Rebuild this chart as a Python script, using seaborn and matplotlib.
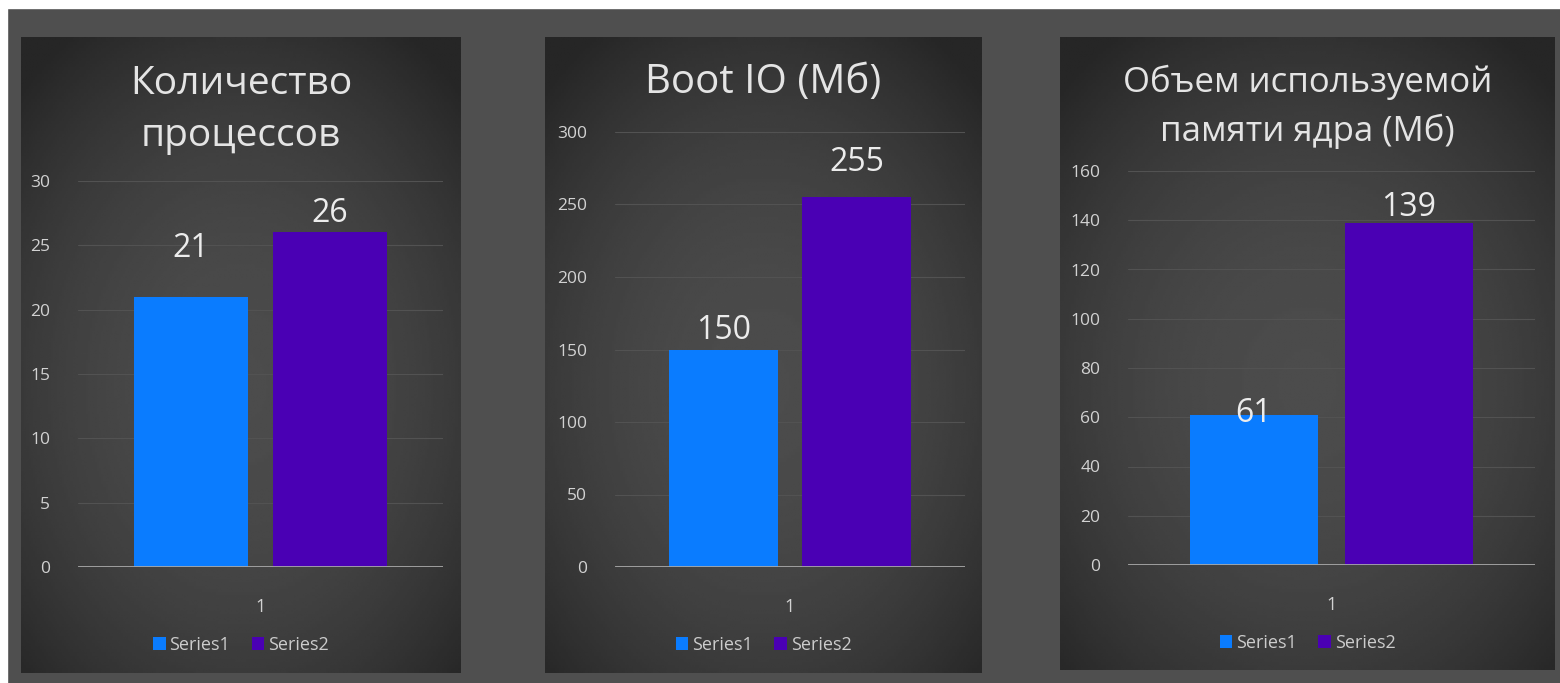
import numpy as np
import pandas as pd
import matplotlib.pyplot as plt
import seaborn as sns
from matplotlib.patches import Rectangle

# ---------------- данные ----------------
series = ["Series1", "Series2"]
category = ["1"]
processes = [21, 26]
boot_io = [150, 255]
kernel_mem = [61, 139]
titles = ["Количество\nпроцессов", "Boot IO (Мб)", "Объем используемой\nпамяти ядра (Мб)"]
y_max = [30, 300, 160]
y_step = [5, 50, 20]
colors = ["#0a7cff", "#4a00b4"]

sns.set_theme(style="dark")
plt.rcParams["font.family"] = ["Open Sans", "DejaVu Sans"]

W, H = 1560, 683
fig = plt.figure(figsize=(W / 100, H / 100), dpi=100, facecolor="#4f4f4f")

# белые полосы сверху и слева (как на скриншоте)
fig.patches.append(Rectangle((0, 1 - 8 / H), 1, 8 / H, transform=fig.transFigure,
                             color="white", zorder=0))
fig.patches.append(Rectangle((0, 0), 7 / W, 1, transform=fig.transFigure,
                             color="white", zorder=0))


def frac(x0, y0, x1, y1):
    # пиксели (сверху-вниз) -> доли фигуры
    return [x0 / W, 1 - y1 / H, (x1 - x0) / W, (y1 - y0) / H]


# раскладка панелей: фон, оси, заголовок, легенда, отступы подписей
panels = [
    dict(bg=(21, 37, 461, 673), ax=(78, 181, 443, 567), title_y=110, title_fs=28,
         leg_y=645, pads=(23, 2)),
    dict(bg=(545, 37, 982, 673), ax=(615, 132, 965, 567), title_y=83, title_fs=29,
         leg_y=645, pads=(2, 13)),
    dict(bg=(1060, 37, 1555, 670), ax=(1128, 171, 1535, 565), title_y=107, title_fs=25,
         leg_y=643, pads=(-11, -1)),
]
values = [processes, boot_io, kernel_mem]

# радиальный градиент для фона панелей
gx, gy = np.meshgrid(np.linspace(0, 1, 200), np.linspace(0, 1, 200))
r = np.sqrt(((gx - 0.5) / 0.75) ** 2 + ((gy - 0.55) / 0.7) ** 2)
grad = np.clip(76 - 42 * r ** 2, 38, 80)

for i, p in enumerate(panels):
    bg = fig.add_axes(frac(*p["bg"]), zorder=0)
    bg.imshow(grad, cmap="gray", vmin=0, vmax=255, aspect="auto",
              extent=(0, 1, 0, 1), interpolation="bilinear")
    bg.set_axis_off()

    ax = fig.add_axes(frac(*p["ax"]), zorder=1)
    ax.set_facecolor("none")

    df = pd.DataFrame({"category": category * len(series),
                       "series": series,
                       "value": values[i]})
    sns.barplot(data=df, x="category", y="value", hue="series", palette=colors,
                saturation=1, width=0.8, gap=0.18, errorbar=None, linewidth=0, ax=ax)

    for cont, pad in zip(ax.containers, p["pads"]):
        ax.bar_label(cont, padding=pad, fontsize=23, color="#ececec")

    ax.set_xlim(-0.525, 0.525)
    ax.set_ylim(0, y_max[i])
    ax.set_yticks(np.arange(0, y_max[i] + 1, y_step[i]))
    ax.set_xlabel("")
    ax.set_ylabel("")
    ax.yaxis.grid(True, color="#525252", lw=0.8)
    ax.xaxis.grid(False)
    ax.axhline(0, color="#a8a8a8", lw=2, zorder=3)
    for s in ax.spines.values():
        s.set_visible(False)
    ax.tick_params(axis="y", length=0, pad=20, labelsize=12.5, labelcolor="#d2d2d2")
    ax.tick_params(axis="x", length=0, pad=22, labelsize=13, labelcolor="#d2d2d2")

    handles, labels = ax.get_legend_handles_labels()
    if ax.get_legend() is not None:
        ax.get_legend().remove()
    cx = (p["bg"][0] + p["bg"][2]) / 2
    ax.legend(handles, labels, loc="center", bbox_to_anchor=(cx / W, 1 - p["leg_y"] / H),
              bbox_transform=fig.transFigure, ncol=2, frameon=False,
              handlelength=0.7, handleheight=0.7, handletextpad=0.2,
              columnspacing=1.2, fontsize=13, labelcolor="#cccccc")

    fig.text(cx / W, 1 - p["title_y"] / H, titles[i], ha="center", va="center",
             fontsize=p["title_fs"], color="#e4e4e4", linespacing=1.5)

fig.savefig("out.png", dpi=100, facecolor=fig.get_facecolor())
